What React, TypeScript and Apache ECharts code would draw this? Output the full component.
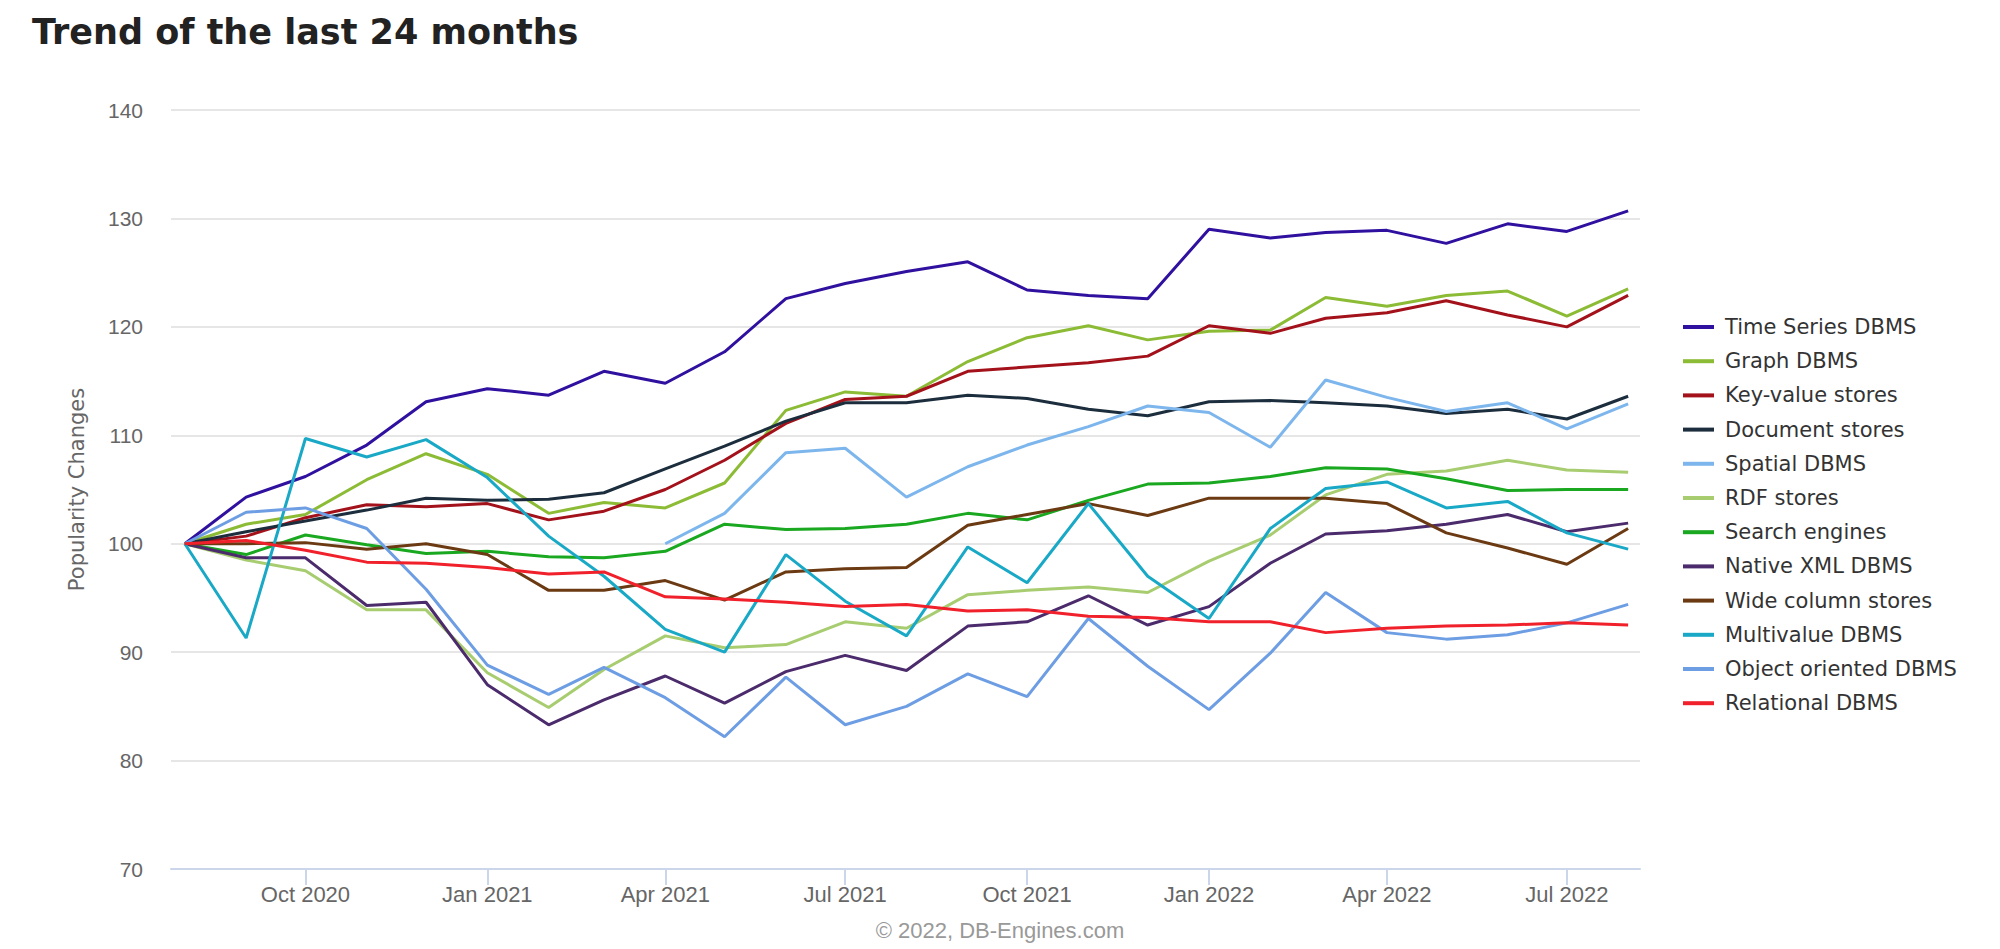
import React, { useEffect, useRef } from "react";
import * as echarts from "echarts";

const MONTH_NAMES = ["Jan", "Feb", "Mar", "Apr", "May", "Jun", "Jul", "Aug", "Sep", "Oct", "Nov", "Dec"];

const months = [
  "2020-08", "2020-09", "2020-10", "2020-11", "2020-12",
  "2021-01", "2021-02", "2021-03", "2021-04", "2021-05", "2021-06", "2021-07",
  "2021-08", "2021-09", "2021-10", "2021-11", "2021-12",
  "2022-01", "2022-02", "2022-03", "2022-04", "2022-05", "2022-06", "2022-07", "2022-08",
];
const tickMonths = ["2020-10", "2021-01", "2021-04", "2021-07", "2021-10", "2022-01", "2022-04", "2022-07"];
const axisStart = "2020-07-25";
const axisEnd = "2022-08-07";

const seriesNames = [
  "Time Series DBMS", "Graph DBMS", "Key-value stores", "Document stores", "Spatial DBMS", "RDF stores",
  "Search engines", "Native XML DBMS", "Wide column stores", "Multivalue DBMS", "Object oriented DBMS", "Relational DBMS",
];
const seriesColors = [
  "#2f109f", "#8cbb35", "#a3111a", "#1c2e3d", "#7db6ec", "#a8cc70",
  "#19a81f", "#4b2b6c", "#6b3a12", "#19a9c6", "#6d9de3", "#f0212b",
];

const timeSeriesDBMS = [100, 104.3, 106.2, 109.1, 113.1, 114.3, 113.7, 115.9, 114.8, 117.7, 122.6, 124.0, 125.1, 126.0, 123.4, 122.9, 122.6, 129.0, 128.2, 128.7, 128.9, 127.7, 129.5, 128.8, 130.7];
const graphDBMS = [100, 101.8, 102.7, 105.9, 108.3, 106.4, 102.8, 103.8, 103.3, 105.6, 112.3, 114.0, 113.6, 116.8, 119.0, 120.1, 118.8, 119.6, 119.7, 122.7, 121.9, 122.9, 123.3, 121.0, 123.5];
const keyValueStores = [100, 100.7, 102.4, 103.6, 103.4, 103.7, 102.2, 103.0, 105.0, 107.7, 111.1, 113.3, 113.6, 115.9, 116.3, 116.7, 117.3, 120.1, 119.4, 120.8, 121.3, 122.4, 121.1, 120.0, 122.9];
const documentStores = [100, 101.1, 102.1, 103.1, 104.2, 104.0, 104.1, 104.7, 106.9, 109.0, 111.3, 113.0, 113.0, 113.7, 113.4, 112.4, 111.8, 113.1, 113.2, 113.0, 112.7, 112.0, 112.4, 111.5, 113.6];
const spatialDBMS = [null, null, null, null, null, null, null, null, 100, 102.8, 108.4, 108.8, 104.3, 107.1, 109.1, 110.8, 112.7, 112.1, 108.9, 115.1, 113.5, 112.2, 113.0, 110.6, 112.9];
const rdfStores = [100, 98.5, 97.5, 93.9, 93.9, 88.1, 84.9, 88.4, 91.5, 90.4, 90.7, 92.8, 92.2, 95.3, 95.7, 96.0, 95.5, 98.4, 100.8, 104.5, 106.4, 106.7, 107.7, 106.8, 106.6];
const searchEngines = [100, 99.0, 100.8, 99.9, 99.1, 99.3, 98.8, 98.7, 99.3, 101.8, 101.3, 101.4, 101.8, 102.8, 102.2, 104.0, 105.5, 105.6, 106.2, 107.0, 106.9, 106.0, 104.9, 105.0, 105.0];
const nativeXMLDBMS = [100, 98.7, 98.7, 94.3, 94.6, 87.0, 83.3, 85.6, 87.8, 85.3, 88.2, 89.7, 88.3, 92.4, 92.8, 95.2, 92.5, 94.2, 98.2, 100.9, 101.2, 101.8, 102.7, 101.1, 101.9];
const wideColumnStores = [100, 100.0, 100.1, 99.5, 100.0, 99.0, 95.7, 95.7, 96.6, 94.8, 97.4, 97.7, 97.8, 101.7, 102.7, 103.7, 102.6, 104.2, 104.2, 104.2, 103.7, 101.0, 99.6, 98.1, 101.4];
const multivalueDBMS = [100, 91.3, 109.7, 108.0, 109.6, 106.1, 100.7, 97.0, 92.1, 90.0, 99.0, 94.7, 91.5, 99.7, 96.4, 103.7, 97.0, 93.1, 101.4, 105.1, 105.7, 103.3, 103.9, 101.0, 99.5];
const objectOrientedDBMS = [100, 102.9, 103.3, 101.4, 95.8, 88.8, 86.1, 88.6, 85.8, 82.2, 87.7, 83.3, 85.0, 88.0, 85.9, 93.1, 88.7, 84.7, 89.9, 95.5, 91.8, 91.2, 91.6, 92.7, 94.4];
const relationalDBMS = [100, 100.3, 99.4, 98.3, 98.2, 97.8, 97.2, 97.4, 95.1, 94.9, 94.6, 94.2, 94.4, 93.8, 93.9, 93.3, 93.2, 92.8, 92.8, 91.8, 92.2, 92.4, 92.5, 92.7, 92.5];

const seriesValues = [
  timeSeriesDBMS, graphDBMS, keyValueStores, documentStores, spatialDBMS, rdfStores,
  searchEngines, nativeXMLDBMS, wideColumnStores, multivalueDBMS, objectOrientedDBMS, relationalDBMS,
];

const yTicks = [70, 80, 90, 100, 110, 120, 130, 140];

const toTime = (s: string) => {
  const p = s.split("-").map(Number);
  return new Date(p[0], p[1] - 1, p[2] || 1).getTime();
};

const NARROW = "'Liberation Sans Narrow', 'Liberation Sans', sans-serif";
const SANS = "'DejaVu Sans', Verdana, sans-serif";

export default function App() {
  const ref = useRef<HTMLDivElement>(null);

  useEffect(() => {
    if (!ref.current) return;
    const chart = echarts.init(ref.current, null, { renderer: "svg" });
    const xs = months.map(toTime);
    const ticks = tickMonths.map(toTime);

    const option: any = {
      animation: false,
      backgroundColor: "#ffffff",
      title: {
        text: "Trend of the last 24 months",
        left: 27,
        top: 9,
        textStyle: { fontFamily: SANS, fontWeight: "bold", fontSize: 35, color: "#222222" },
      },
      legend: {
        orient: "vertical",
        left: 1678,
        top: 311,
        itemWidth: 31,
        itemHeight: 4,
        itemGap: 12.2,
        icon: "rect",
        data: seriesNames,
        textStyle: { fontFamily: SANS, fontSize: 21, lineHeight: 22, color: "#333333", padding: [0, 0, 0, 6] },
      },
      graphic: [
        {
          type: "text",
          left: "center",
          top: 919,
          style: {
            text: "\u00a9 2022, DB-Engines.com",
            fontFamily: NARROW,
            fontSize: 22,
            fill: "#999999",
          },
        },
      ],
      grid: { left: 171, right: 360, top: 110, bottom: 80, containLabel: false },
      xAxis: {
        type: "value",
        min: toTime(axisStart),
        max: toTime(axisEnd),
        axisLine: { show: true, lineStyle: { color: "#ccd6eb", width: 2 } },
        axisTick: { show: true, length: 16, lineStyle: { color: "#ccd6eb", width: 2 }, customValues: ticks },
        axisLabel: {
          customValues: ticks,
          margin: 14,
          fontFamily: NARROW,
          fontSize: 22,
          color: "#666666",
          formatter: (v: number) => {
            const d = new Date(v);
            return MONTH_NAMES[d.getMonth()] + " " + d.getFullYear();
          },
        },
        splitLine: { show: false },
      },
      yAxis: {
        type: "value",
        min: yTicks[0],
        max: yTicks[yTicks.length - 1],
        interval: 10,
        name: "Popularity Changes",
        nameLocation: "middle",
        nameRotate: 90,
        nameGap: 84,
        nameTextStyle: { fontFamily: SANS, fontSize: 21, color: "#666666" },
        axisLine: { show: false },
        axisTick: { show: false },
        axisLabel: { margin: 28, fontFamily: NARROW, fontSize: 21, color: "#666666" },
        splitLine: { lineStyle: { color: "#e6e6e6", width: 2 } },
      },
      series: seriesNames.map((name, i) => ({
        name,
        type: "line",
        data: xs.map((x, j) => [x, seriesValues[i][j]]),
        showSymbol: false,
        symbol: "none",
        connectNulls: false,
        color: seriesColors[i],
        lineStyle: { width: 3, color: seriesColors[i] },
        z: 2 + i,
      })),
    };
    chart.setOption(option);
    return () => chart.dispose();
  }, []);

  return (
    <div
      ref={ref}
      style={{ position: "absolute", left: 0, top: 0, width: 2000, height: 949, background: "#fff" }}
    />
  );
}
